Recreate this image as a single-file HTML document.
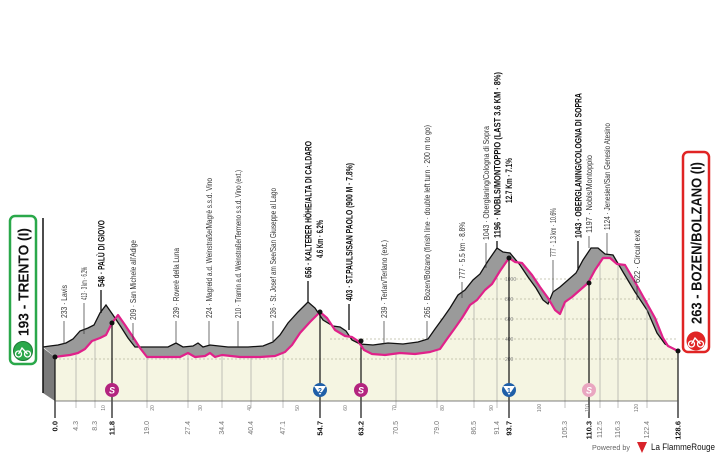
<!DOCTYPE html>
<html><head><meta charset="utf-8"><style>
html,body{margin:0;padding:0;background:#fff;}
svg{display:block;}
text{font-family:"Liberation Sans Narrow","Liberation Sans",sans-serif;}
</style></head><body>
<svg width="720" height="457" viewBox="0 0 720 457" xmlns="http://www.w3.org/2000/svg">
<polygon fill="#f5f5e2" points="55,401 55,357 62,356 70,355 78,353 85,349 92,341 100,338 106,335 112,323 118,315 125,325 133,337 140,348 147,357 160,357 180,357 188,353 195,357 205,356 210,353 215,357 222,355 240,357 260,357 275,356 285,352 292,345 300,333 310,322 320,312 327,318 335,330 345,336 352,337 358,341 364,350 372,354 385,355 400,353 415,354 430,352 440,349 447,339 455,328 462,318 470,305 477,300 485,290 492,284 500,271 509,258 515,262 522,263 532,275 540,287 548,298 555,310 560,314 565,302 572,297 580,290 588,283 595,270 603,258 610,258 617,264 625,265 635,282 645,300 655,318 663,338 668,346 678,351 678,401"/>
<g stroke="#b8b8a0" stroke-width="0.7" stroke-dasharray="2,2">
<line x1="55" y1="359" x2="678" y2="359"/><line x1="330" y1="339" x2="678" y2="339"/>
<line x1="440" y1="319" x2="660" y2="319"/><line x1="460" y1="299" x2="650" y2="299"/><line x1="480" y1="279" x2="640" y2="279"/>
</g>
<g font-size="5" fill="#888"><text x="505" y="361">200</text><text x="505" y="341">400</text><text x="505" y="321">600</text><text x="505" y="301">800</text><text x="505" y="281">1000</text></g>
<polygon fill="#7a7a7a" points="43,348 55,357 55,401 43,393"/>
<line x1="43" y1="218" x2="43" y2="393" stroke="#111" stroke-width="1.5"/>
<polygon fill="#9a9a9a" points="43,347 50,346 58,345 66,343 73,339 80,331 88,328 94,325 100,313 106,305 113,315 121,327 128,338 135,347 148,347 168,347 176,343 183,347 193,346 198,343 203,347 210,345 228,347 248,347 263,346 273,342 280,335 288,323 298,312 308,302 315,308 323,320 333,326 340,327 346,331 352,340 360,344 373,345 388,343 403,344 418,342 428,339 435,329 443,318 450,308 458,295 465,290 473,280 480,274 488,261 497,248 503,252 510,253 520,265 528,277 536,288 543,300 548,304 553,292 560,287 568,280 576,273 583,260 591,248 598,248 605,254 613,255 623,272 635,292 647,310 657,333 665,344 678,351 668,346 663,338 655,318 645,300 635,282 625,265 617,264 610,258 603,258 595,270 588,283 580,290 572,297 565,302 560,314 555,310 548,298 540,287 532,275 522,263 515,262 509,258 500,271 492,284 485,290 477,300 470,305 462,318 455,328 447,339 440,349 430,352 415,354 400,353 385,355 372,354 364,350 358,341 352,337 345,336 335,330 327,318 320,312 310,322 300,333 292,345 285,352 275,356 260,357 240,357 222,355 215,357 210,353 205,356 195,357 188,353 180,357 160,357 147,357 140,348 133,337 125,325 118,315 112,323 106,335 100,338 92,341 85,349 78,353 70,355 62,356 55,357"/>
<polyline fill="none" stroke="#111" stroke-width="1.3" points="43,347 50,346 58,345 66,343 73,339 80,331 88,328 94,325 100,313 106,305 113,315 121,327 128,338 135,347 148,347 168,347 176,343 183,347 193,346 198,343 203,347 210,345 228,347 248,347 263,346 273,342 280,335 288,323 298,312 308,302 315,308 323,320 333,326 340,327 346,331 352,340 360,344 373,345 388,343 403,344 418,342 428,339 435,329 443,318 450,308 458,295 465,290 473,280 480,274 488,261 497,248 503,252 510,253 520,265 528,277 536,288 543,300 548,304 553,292 560,287 568,280 576,273 583,260 591,248 598,248 605,254 613,255 623,272 635,292 647,310 657,333 665,344 678,351"/>
<g stroke="#999" stroke-width="0.6">
<line x1="76" y1="355" x2="76" y2="408"/><line x1="95" y1="339" x2="95" y2="408"/><line x1="147" y1="357" x2="147" y2="408"/><line x1="188" y1="353" x2="188" y2="408"/><line x1="222" y1="355" x2="222" y2="408"/><line x1="251" y1="357" x2="251" y2="408"/><line x1="283" y1="353" x2="283" y2="408"/><line x1="396" y1="354" x2="396" y2="408"/><line x1="437" y1="350" x2="437" y2="408"/><line x1="474" y1="301" x2="474" y2="408"/><line x1="497" y1="276" x2="497" y2="408"/><line x1="565" y1="302" x2="565" y2="408"/><line x1="600" y1="258" x2="600" y2="408"/><line x1="618" y1="264" x2="618" y2="408"/><line x1="647" y1="300" x2="647" y2="408"/>
</g>
<g stroke="#111" stroke-width="1.2">
<line x1="112" y1="323" x2="112" y2="418"/><line x1="320" y1="312" x2="320" y2="418"/><line x1="361" y1="341" x2="361" y2="418"/><line x1="509" y1="258" x2="509" y2="418"/><line x1="589" y1="283" x2="589" y2="418"/><line x1="55" y1="357" x2="55" y2="418"/><line x1="678" y1="351" x2="678" y2="418"/>
</g>
<polyline fill="none" stroke="#e0218a" stroke-width="2.2" stroke-linejoin="round" points="55,357 62,356 70,355 78,353 85,349 92,341 100,338 106,335 112,323 118,315 125,325 133,337 140,348 147,357 160,357 180,357 188,353 195,357 205,356 210,353 215,357 222,355 240,357 260,357 275,356 285,352 292,345 300,333 310,322 320,312 327,318 335,330 345,336 352,337 358,341 364,350 372,354 385,355 400,353 415,354 430,352 440,349 447,339 455,328 462,318 470,305 477,300 485,290 492,284 500,271 509,258 515,262 522,263 532,275 540,287 548,298 555,310 560,314 565,302 572,297 580,290 588,283 595,270 603,258 610,258 617,264 625,265 635,282 645,300 655,318 663,338 668,346 678,351"/>
<g fill="#111"><circle cx="55" cy="357" r="2.5"/><circle cx="112" cy="323" r="2.5"/><circle cx="320" cy="312" r="2.5"/><circle cx="361" cy="341" r="2.5"/><circle cx="509" cy="258" r="2.5"/><circle cx="589" cy="283" r="2.5"/><circle cx="678" cy="351" r="2.5"/></g>
<line x1="55" y1="401" x2="678" y2="401" stroke="#555" stroke-width="0.8"/>
<g font-family="Liberation Sans" font-weight="bold" font-style="italic" font-size="9" text-anchor="middle">
<circle cx="112" cy="390" r="7" fill="#b3247f"/><text x="112" y="393.5" fill="#fff">S</text>
<circle cx="361" cy="390" r="7" fill="#b3247f"/><text x="361" y="393.5" fill="#fff">S</text>
<circle cx="589" cy="390" r="7" fill="#e9a6c0"/><text x="589" y="393.5" fill="#fff">S</text>
<circle cx="320" cy="390" r="7" fill="#1f5fa8"/><polygon points="314,386 326,386 320,395" fill="#fff"/><text x="320" y="393" font-size="7" fill="#1f5fa8" font-style="normal">2</text>
<circle cx="509" cy="390" r="7" fill="#1f5fa8"/><polygon points="503,386 515,386 509,395" fill="#fff"/><text x="509" y="393" font-size="7" fill="#1f5fa8" font-style="normal">1</text>
</g>
<g font-size="5" fill="#777" text-anchor="middle">
<text transform="translate(105,408) rotate(-90)">10</text><text transform="translate(154,408) rotate(-90)">20</text><text transform="translate(202,408) rotate(-90)">30</text><text transform="translate(251,408) rotate(-90)">40</text><text transform="translate(299,408) rotate(-90)">50</text><text transform="translate(347,408) rotate(-90)">60</text><text transform="translate(396,408) rotate(-90)">70</text><text transform="translate(444,408) rotate(-90)">80</text><text transform="translate(493,408) rotate(-90)">90</text><text transform="translate(541,408) rotate(-90)">100</text><text transform="translate(589,408) rotate(-90)">110</text><text transform="translate(638,408) rotate(-90)">120</text>
</g>
<g font-size="7" fill="#777" text-anchor="end">
<text transform="translate(78,421) rotate(-90)">4.3</text><text transform="translate(97,421) rotate(-90)">8.3</text><text transform="translate(149,421) rotate(-90)">19.0</text><text transform="translate(190,421) rotate(-90)">27.4</text><text transform="translate(224,421) rotate(-90)">34.4</text><text transform="translate(253,421) rotate(-90)">40.4</text><text transform="translate(285,421) rotate(-90)">47.1</text><text transform="translate(398,421) rotate(-90)">70.5</text><text transform="translate(439,421) rotate(-90)">79.0</text><text transform="translate(476,421) rotate(-90)">86.5</text><text transform="translate(499,421) rotate(-90)">91.4</text><text transform="translate(567,421) rotate(-90)">105.3</text><text transform="translate(602,421) rotate(-90)">112.5</text><text transform="translate(620,421) rotate(-90)">116.3</text><text transform="translate(649,421) rotate(-90)">122.4</text>
</g>
<g font-size="7.5" fill="#111" font-weight="bold" text-anchor="end">
<text transform="translate(57.5,421) rotate(-90)">0.0</text><text transform="translate(114.5,421) rotate(-90)">11.8</text><text transform="translate(322.5,421) rotate(-90)">54.7</text><text transform="translate(363.5,421) rotate(-90)">63.2</text><text transform="translate(511.5,421) rotate(-90)">93.7</text><text transform="translate(591.5,421) rotate(-90)">110.3</text><text transform="translate(680.5,421) rotate(-90)">128.6</text>
</g>
<g stroke="#333" stroke-width="0.7">
<line x1="64" y1="321" x2="64" y2="344"/><line x1="84" y1="303" x2="84" y2="334"/><line x1="133" y1="323" x2="133" y2="340"/><line x1="176" y1="321" x2="176" y2="343"/><line x1="209" y1="321" x2="209" y2="345"/><line x1="238" y1="321" x2="238" y2="347"/><line x1="273" y1="321" x2="273" y2="342"/><line x1="384" y1="321" x2="384" y2="344"/><line x1="427" y1="321" x2="427" y2="340"/><line x1="462" y1="282" x2="462" y2="298"/><line x1="486" y1="243" x2="486" y2="268"/><line x1="553" y1="260" x2="553" y2="292"/><line x1="589" y1="236" x2="589" y2="248"/><line x1="607" y1="233" x2="607" y2="254"/><line x1="637" y1="286" x2="637" y2="300"/>
</g>
<g stroke="#111" stroke-width="1.3">
<line x1="101" y1="290" x2="101" y2="313"/><line x1="308" y1="281" x2="308" y2="302"/><line x1="349" y1="304" x2="349" y2="330"/><line x1="497" y1="241" x2="497" y2="248"/><line x1="578" y1="241" x2="578" y2="270"/>
</g>
<g font-size="8.5" fill="#333">
<text transform="translate(67,318) rotate(-90)" textLength="33" lengthAdjust="spacingAndGlyphs">233 · Lavis</text>
<text transform="translate(87,300) rotate(-90)" textLength="33" lengthAdjust="spacingAndGlyphs">413 · 3 km · 6.2%</text>
<text transform="translate(136,320) rotate(-90)" textLength="80" lengthAdjust="spacingAndGlyphs">209 · San Michele all'Adige</text>
<text transform="translate(179,318) rotate(-90)" textLength="70" lengthAdjust="spacingAndGlyphs">239 · Roverè della Luna</text>
<text transform="translate(212,318) rotate(-90)" textLength="140" lengthAdjust="spacingAndGlyphs">224 · Magreid a.d. Weinstraße/Magrè s.s.d. Vino</text>
<text transform="translate(241,318) rotate(-90)" textLength="148" lengthAdjust="spacingAndGlyphs">210 · Tramin a.d. Weinstraße/Termeno s.s.d. Vino (ext.)</text>
<text transform="translate(276,318) rotate(-90)" textLength="130" lengthAdjust="spacingAndGlyphs">236 · St. Josef am See/San Giuseppe al Lago</text>
<text transform="translate(387,318) rotate(-90)" textLength="78" lengthAdjust="spacingAndGlyphs">239 · Terlan/Terlano (ext.)</text>
<text transform="translate(430,318) rotate(-90)" textLength="193" lengthAdjust="spacingAndGlyphs">265 · Bozen/Bolzano (finish line · double left turn · 200 m to go)</text>
<text transform="translate(465,279) rotate(-90)" textLength="57" lengthAdjust="spacingAndGlyphs">777 · 5.5 km · 8.8%</text>
<text transform="translate(489,240) rotate(-90)" textLength="114" lengthAdjust="spacingAndGlyphs">1043 · Oberglaning/Cologna di Sopra</text>
<text transform="translate(556,257) rotate(-90)" textLength="49" lengthAdjust="spacingAndGlyphs">777 · 1.3 km · 10.6%</text>
<text transform="translate(592,233) rotate(-90)" textLength="78" lengthAdjust="spacingAndGlyphs">1197 · Nobls/Montoppio</text>
<text transform="translate(610,230) rotate(-90)" textLength="107" lengthAdjust="spacingAndGlyphs">1124 · Jenesien/San Genesio Atesino</text>
<text transform="translate(640,283) rotate(-90)" textLength="53" lengthAdjust="spacingAndGlyphs">622 · Circuit exit</text>
</g>
<g font-size="9" fill="#111" font-weight="bold">
<text transform="translate(104.5,287) rotate(-90)" textLength="67" lengthAdjust="spacingAndGlyphs">546 · PALÙ DI GIOVO</text>
<text transform="translate(311.5,278) rotate(-90)" textLength="137" lengthAdjust="spacingAndGlyphs">656 · KALTERER HÖHE/ALTA DI CALDARO</text>
<text transform="translate(323,258) rotate(-90)" textLength="38" lengthAdjust="spacingAndGlyphs">4.6 Km · 6.2%</text>
<text transform="translate(352.5,301) rotate(-90)" textLength="138" lengthAdjust="spacingAndGlyphs">403 · ST.PAULS/SAN PAOLO (900 M · 7.8%)</text>
<text transform="translate(500.5,238) rotate(-90)" textLength="166" lengthAdjust="spacingAndGlyphs">1196 · NOBLS/MONTOPPIO (LAST 3.6 KM · 8%)</text>
<text transform="translate(512,203) rotate(-90)" textLength="45" lengthAdjust="spacingAndGlyphs">12.7 Km · 7.1%</text>
<text transform="translate(581.5,238) rotate(-90)" textLength="145" lengthAdjust="spacingAndGlyphs">1043 · OBERGLANING/COLOGNA DI SOPRA</text>
</g>
<rect x="10" y="216" width="26" height="148" rx="5" fill="#fff" stroke="#2aa84a" stroke-width="2.5"/>
<text transform="translate(28.5,336) rotate(-90)" font-family="Liberation Sans" font-weight="bold" font-size="15" fill="#111" textLength="108" lengthAdjust="spacingAndGlyphs">193 - TRENTO (I)</text>
<circle cx="23" cy="351" r="9.5" fill="#2aa84a" stroke="#1d7a35" stroke-width="1"/>
<g stroke="#fff" stroke-width="1.3" fill="none"><circle cx="18.5" cy="354" r="3"/><circle cx="27.5" cy="354" r="3"/><path d="M18.5 354 L22 348 L27.5 354"/></g>
<rect x="683" y="152" width="26" height="200" rx="5" fill="#fff" stroke="#e02424" stroke-width="2.5"/>
<text transform="translate(701.5,324) rotate(-90)" font-family="Liberation Sans" font-weight="bold" font-size="15" fill="#111" textLength="162" lengthAdjust="spacingAndGlyphs">263 - BOZEN/BOLZANO (I)</text>
<circle cx="696" cy="341" r="9.5" fill="#e02424"/>
<g stroke="#fff" stroke-width="1.3" fill="none"><circle cx="691.5" cy="344" r="3"/><circle cx="700.5" cy="344" r="3"/><path d="M691.5 344 L695 338 L700.5 344"/></g>
<text x="592" y="450" font-family="Liberation Sans" font-size="7.5" fill="#666" textLength="38" lengthAdjust="spacingAndGlyphs">Powered by</text>
<polygon points="637,442 647,442 642,453" fill="#d8232a"/>
<text x="651" y="450" font-family="Liberation Sans" font-size="9" fill="#111" textLength="64" lengthAdjust="spacingAndGlyphs">La FlammeRouge</text>
</svg>
</body></html>
